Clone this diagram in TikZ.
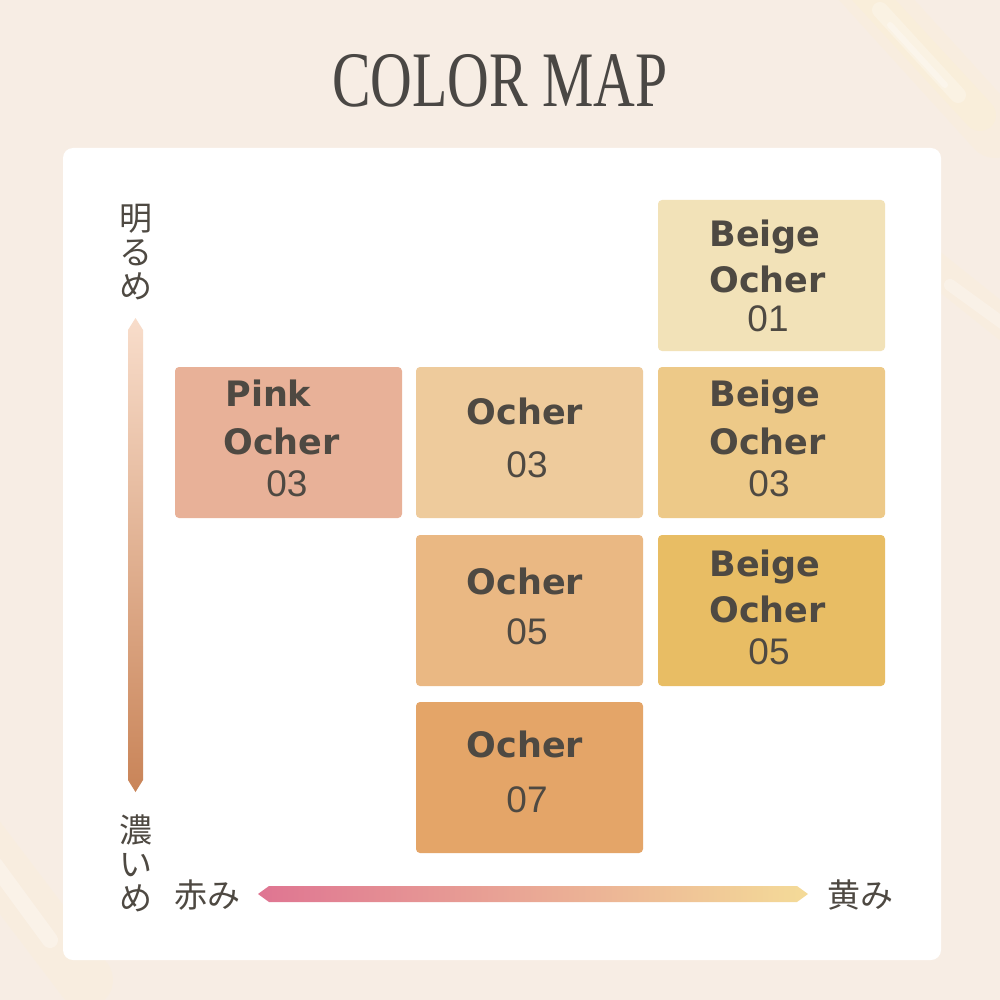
\documentclass[tikz,border=0pt]{standalone}
\usepackage{fontspec}
\usepackage{pdfrender}
\newfontfamily\titlefont{Liberation Serif}
\newfontfamily\namefont{DejaVu Sans}
\newfontfamily\numfont{Liberation Sans}
\newfontfamily\jpfont{Noto Sans CJK JP}
\definecolor{bgpeach}{HTML}{F7EDE4}
\definecolor{inkgray}{HTML}{4E4942}
\definecolor{titlegray}{HTML}{4A4744}
\definecolor{beigeocherA}{HTML}{F2E2B8}
\definecolor{beigeocherB}{HTML}{EDC988}
\definecolor{beigeocherC}{HTML}{E8BD64}
\definecolor{pinkocher}{HTML}{E8B198}
\definecolor{ocherA}{HTML}{EECB9C}
\definecolor{ocherB}{HTML}{EAB883}
\definecolor{ocherC}{HTML}{E4A568}
\definecolor{lightend}{HTML}{F8DDCB}
\definecolor{darkend}{HTML}{C98458}
\definecolor{redend}{HTML}{DF7592}
\definecolor{midend}{HTML}{EBA798}
\definecolor{yellowend}{HTML}{F4DB98}
\definecolor{glare}{HTML}{FFF3C8}
\newcommand{\outlined}[1]{\textpdfrender{TextRenderingMode=FillStroke,LineWidth=1.1pt,StrokeColor=white}{#1}}
\tikzset{
  swatch/.style={rounded corners=2pt},
  boldname/.style={inner sep=0pt,text=inkgray,font=\namefont\bfseries\fontsize{17.5}{20}\selectfont},
  number/.style={inner sep=0pt,text=inkgray,font=\numfont\fontsize{18.5}{20}\selectfont},
  axislabel/.style={inner sep=0pt,text=inkgray,align=center,font=\jpfont\fontsize{16.5}{17}\selectfont},
  streak/.style={line cap=round,line width=#1},
}
\begin{document}
\begin{tikzpicture}[x=0.5pt,y=-0.5pt]
\useasboundingbox (0,0) rectangle (1000,1000);
\fill[bgpeach] (0,0) rectangle (1000,1000);
% glare streaks
\draw[glare,streak=28pt,opacity=0.15] (845,-35) -- (995,130);
\draw[glare,streak=16pt,opacity=0.2] (860,-15) -- (980,115);
\draw[white,streak=8pt,opacity=0.25] (880,10) -- (958,95);
\draw[white,streak=3pt,opacity=0.3] (890,25) -- (945,85);
\draw[glare,streak=16pt,opacity=0.15] (925,260) -- (1025,340);
\draw[white,streak=6pt,opacity=0.25] (950,285) -- (1012,330);
\draw[glare,streak=28pt,opacity=0.15] (-25,835) -- (85,980);
\draw[white,streak=8pt,opacity=0.3] (-5,865) -- (50,940);
% panel
\fill[white,rounded corners=5pt] (63,148) rectangle (941,960);
\node[inner sep=0pt,anchor=base,text=titlegray,xscale=0.735,font=\titlefont\fontsize{39.3}{40}\selectfont] (title) at (500,107) {COLOR MAP};

% swatches
\fill[swatch,beigeocherA] (658,200) rectangle (885,351);
\fill[swatch,pinkocher] (175,367) rectangle (402,518);
\fill[swatch,ocherA] (416,367) rectangle (643,518);
\fill[swatch,beigeocherB] (658,367) rectangle (885,518);
\fill[swatch,ocherB] (416,535) rectangle (643,686);
\fill[swatch,beigeocherC] (658,535) rectangle (885,686);
\fill[swatch,ocherC] (416,702) rectangle (643,853);

\node[boldname,anchor=base west] (bo1a) at (709,246) {\outlined{Beige}};
\node[boldname,anchor=base west] (bo1b) at (709,292) {\outlined{Ocher}};
\node[number,anchor=base] (bo1n) at (768,331) {01};
\node[boldname,anchor=base west] (po3a) at (225,406) {\outlined{Pink}};
\node[boldname,anchor=base west] (po3b) at (223,454) {\outlined{Ocher}};
\node[number,anchor=base] (po3n) at (287,496) {03};
\node[boldname,anchor=base west] (bo3a) at (709,406) {\outlined{Beige}};
\node[boldname,anchor=base west] (bo3b) at (709,454) {\outlined{Ocher}};
\node[number,anchor=base] (bo3n) at (769,496) {03};
\node[boldname,anchor=base west] (bo5a) at (709,576) {\outlined{Beige}};
\node[boldname,anchor=base west] (bo5b) at (709,622) {\outlined{Ocher}};
\node[number,anchor=base] (bo5n) at (769,664) {05};
\node[boldname,anchor=base] (o3a) at (525,424) {\outlined{Ocher}};
\node[number,anchor=base] (o3n) at (527,477) {03};
\node[boldname,anchor=base] (o5a) at (525,594) {\outlined{Ocher}};
\node[number,anchor=base] (o5n) at (527,644) {05};
\node[boldname,anchor=base] (o7a) at (525,757) {\outlined{Ocher}};
\node[number,anchor=base] (o7n) at (527,812) {07};

% axes
\node[axislabel] (light) at (136,252) {明\\る\\め};
\node[axislabel] (deep) at (136,863) {濃\\い\\め};
\shade[top color=lightend,bottom color=darkend] (128,330) -- (135.5,318) -- (143,330) -- (143,780) -- (135.5,792) -- (128,780) -- cycle;
\node[axislabel] (reddish) at (207,895) {赤み};
\node[axislabel] (yellowish) at (860,895) {黄み};
\shade[left color=redend,middle color=midend,right color=yellowend] (258,894) -- (269,886) -- (797,886) -- (808,894) -- (797,902) -- (269,902) -- cycle;
\end{tikzpicture}
\end{document}
